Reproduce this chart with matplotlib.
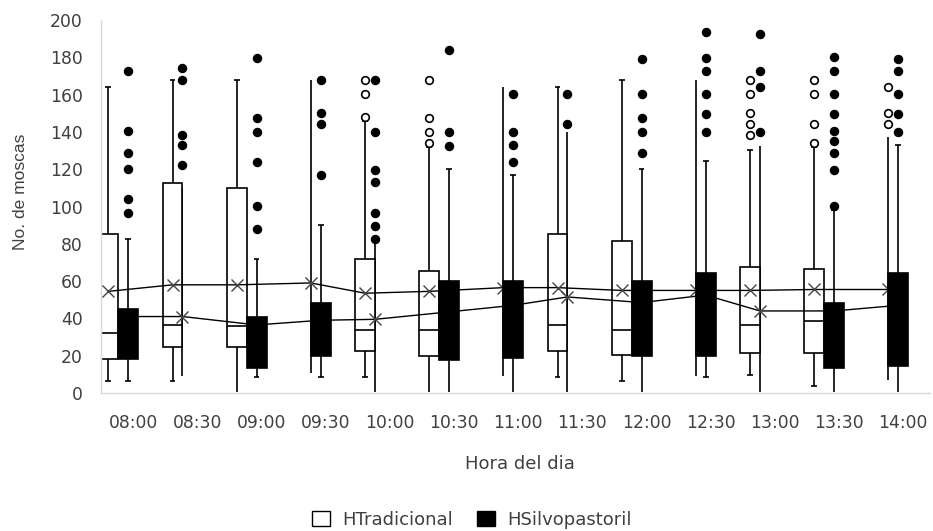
import numpy as np
import matplotlib
matplotlib.use("Agg")
import matplotlib.pyplot as plt
from matplotlib.patches import Patch

plt.rcParams["font.family"] = ["DejaVu Sans"]

horas = ["08:00", "08:30", "09:00", "09:30", "10:00", "10:30", "11:00",
         "11:30", "12:00", "12:30", "13:00", "13:30", "14:00"]

# HTradicional (None = caja no visible en la figura)
trad_q1 = [18, 24.5, 24.5, None, 22.5, 20, None, 22.5, 20.5, None, 21.5, 21.5, None]
trad_med = [32, 36.5, 36, None, 34, 34, None, 36.5, 34, None, 36.5, 38.5, None]
trad_q3 = [85, 112.5, 110, None, 72, 65.5, None, 85.5, 81.5, None, 67.5, 66.5, None]
trad_lo = [6.5, 6.5, 0.7, 10.5, 8.5, 0.7, 9, 8.5, 6.5, 9, 9.5, 3.5, 7]
trad_hi = [164, 168, 168, 168, 146, 132, 164, 164, 168, 168, 130.5, 132, 137.5]
trad_mean = [54.5, 58, 58, 59, 53.5, 54.5, 56.5, 56.5, 55, 55, 55, 55.5, 55.5]
trad_out = [[], [], [], [], [148, 160.5, 168], [134, 140, 147.5, 168], [], [], [], [],
            [138.5, 144.5, 150, 160.5, 168], [134, 144.5, 160.5, 168], [144.5, 150, 164]]

# HSilvopastoril
silvo_q1 = [18, None, 13.5, 20, None, 17.5, 18.5, None, 20, 20, None, 13.5, 14.5]
silvo_q3 = [45, None, 41, 48.5, None, 60, 60, None, 60, 64.5, None, 48.5, 64.5]
silvo_lo = [6.5, 9, 8.5, 8.5, 0.7, 0.7, 0.7, 0.7, 0.7, 8.5, 0.7, 0.7, 0.7]
silvo_hi = [82.5, 110, 72, 90, 80, 120, 117, 140, 120, 124.5, 132.5, 98, 133]
silvo_mean = [41, 41, 36.5, 39, 39.5, 43.5, 47, 51.5, 48.5, 52.5, 44, 44, 47]
silvo_out = [[96.5, 104, 120, 128.5, 140.5, 172.5],
             [122.5, 133, 138.5, 168, 174.5],
             [88, 100.5, 124, 140, 147.5, 179.5],
             [117, 144.5, 150, 168],
             [82.5, 89.5, 96.5, 113, 119.5, 140, 168],
             [132.5, 140, 184],
             [124, 133, 140, 160.5],
             [144.5, 160.5],
             [128.5, 140, 147.5, 160.5, 179],
             [140, 149.5, 160.5, 172.5, 179.5, 193.5],
             [140, 164, 172.5, 192.5],
             [100.5, 119.5, 128.5, 135, 140.5, 149.5, 160.5, 172.5, 180],
             [140, 149.5, 160.5, 172.5, 179]]

fig = plt.figure(figsize=(9.33, 5.31), dpi=100)
ax = fig.add_axes([101 / 933, 138 / 531, 829 / 933, 373 / 531])

x = np.arange(len(horas))
edge = x - 0.23
bw = 0.31
cap = 0.045
lw = 1.2


def draw(q1, q3, med, lo, hi, mean, out, side, face, open_out, zbox):
    q1 = np.array([np.nan if v is None else v for v in q1], float)
    q3 = np.array([np.nan if v is None else v for v in q3], float)
    shown = ~np.isnan(q1)
    cx = np.where(shown, edge + side * bw / 2, edge)
    ax.bar(cx[shown], (q3 - q1)[shown], bw, bottom=q1[shown], color=face,
           edgecolor="black", lw=lw, zorder=zbox)
    if med is not None:
        m = np.array([np.nan if v is None else v for v in med], float)
        ax.hlines(m[shown], cx[shown] - bw / 2, cx[shown] + bw / 2, color="black",
                  lw=lw, zorder=zbox + 0.05)
    for i in range(len(cx)):
        if shown[i]:
            ax.vlines(cx[i], q3[i], hi[i], color="black", lw=lw, zorder=1.5)
            ax.vlines(cx[i], lo[i], q1[i], color="black", lw=lw, zorder=1.5)
            ax.hlines(hi[i], cx[i] - cap, cx[i] + cap, color="black", lw=lw, zorder=1.5)
            if lo[i] > 1:
                ax.hlines(lo[i], cx[i] - cap, cx[i] + cap, color="black", lw=lw, zorder=1.5)
        else:
            ax.vlines(cx[i], lo[i], hi[i], color="black", lw=lw, zorder=1.5)
        if out[i]:
            if open_out:
                ax.plot([cx[i]] * len(out[i]), out[i], "o", ms=5.5, mfc="white",
                        mec="black", mew=1.2, ls="none", zorder=4)
            else:
                ax.plot([cx[i]] * len(out[i]), out[i], "o", ms=5.8, color="black",
                        ls="none", zorder=4)
    ax.plot(cx, mean, color="black", lw=1.0, zorder=2.5)
    ax.plot(cx, mean, "x", ms=9, mew=1.0, color="#444444", ls="none", zorder=2.6)


draw(trad_q1, trad_q3, trad_med, trad_lo, trad_hi, trad_mean, trad_out, -1, "white", True, 2)
draw(silvo_q1, silvo_q3, None, silvo_lo, silvo_hi, silvo_mean, silvo_out, 1, "black", False, 2.8)

ax.set_xlim(-0.5, 12.42)
ax.set_ylim(0, 200)
ax.set_yticks(np.arange(0, 201, 20))
ax.set_xticks(x)
ax.set_xticklabels(horas)
txt = "#404040"
ax.tick_params(length=0, labelsize=12.4, colors=txt)
ax.tick_params(axis="y", pad=13)
ax.tick_params(axis="x", pad=15)
for s in ["top", "right"]:
    ax.spines[s].set_visible(False)
for s in ["left", "bottom"]:
    ax.spines[s].set_color("#d9d9d9")
    ax.spines[s].set_linewidth(1)

ax.set_ylabel("No. de moscas", fontsize=12.5, color=txt,
              family=["Liberation Sans", "DejaVu Sans"])
ax.yaxis.set_label_coords(-0.0875, 0.54)
ax.set_xlabel("Hora del dia", fontsize=13, color=txt)
ax.xaxis.set_label_coords(0.505, -0.167)

handles = [Patch(facecolor="white", edgecolor="black", lw=1, label="HTradicional"),
           Patch(facecolor="black", edgecolor="black", lw=1, label="HSilvopastoril")]
leg = fig.legend(handles=handles, loc="center", bbox_to_anchor=(0.506, 0.021), ncol=2,
                 frameon=False, fontsize=13, handlelength=1.0, handleheight=0.9,
                 columnspacing=1.3, handletextpad=0.7, borderpad=0)
for t in leg.get_texts():
    t.set_color(txt)

fig.savefig("out.png", dpi=100)
